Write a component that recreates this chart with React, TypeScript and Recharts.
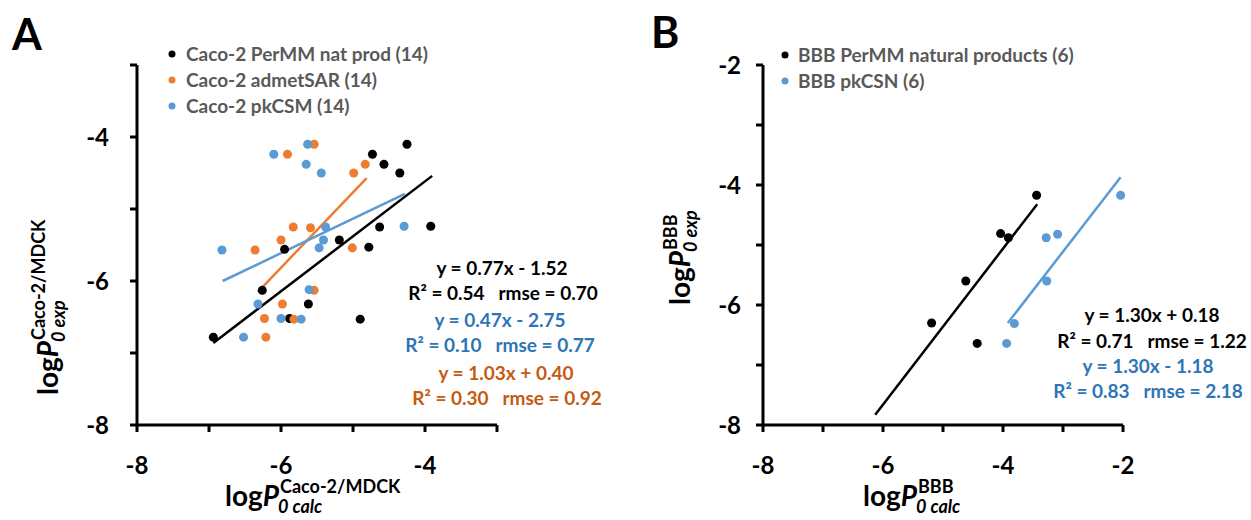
import React, { useLayoutEffect, useRef, useState } from 'react';
import { ScatterChart, Scatter, XAxis, YAxis, ZAxis, ReferenceLine } from 'recharts';

const FONT = 'Lato, Carlito, "Open Sans", sans-serif';
const BLACK = '#000000';
const ORANGE = '#ED7D31';
const BLUE = '#5B9BD5';
const BLUE_TEXT = '#2E75B6';
const ORANGE_TEXT = '#C55A11';
const GREY_TEXT = '#595959';

// Panel A: Caco-2/MDCK, calculated (x) vs experimental (y)
const cacoPermm = [
    { x: -4.25, y: -4.10 }, { x: -4.73, y: -4.24 }, { x: -4.57, y: -4.38 },
    { x: -4.35, y: -4.50 }, { x: -4.63, y: -5.25 }, { x: -3.92, y: -5.24 },
    { x: -5.19, y: -5.43 }, { x: -5.95, y: -5.56 }, { x: -4.78, y: -5.53 },
    { x: -6.26, y: -6.13 }, { x: -5.62, y: -6.32 }, { x: -5.88, y: -6.52 },
    { x: -4.90, y: -6.53 }, { x: -6.94, y: -6.78 },
];
const cacoAdmetsar = [
    { x: -5.54, y: -4.10 }, { x: -5.91, y: -4.24 }, { x: -4.83, y: -4.38 },
    { x: -4.99, y: -4.50 }, { x: -5.83, y: -5.25 }, { x: -5.59, y: -5.26 },
    { x: -6.00, y: -5.43 }, { x: -6.36, y: -5.57 }, { x: -5.01, y: -5.54 },
    { x: -5.54, y: -6.13 }, { x: -5.98, y: -6.32 }, { x: -6.23, y: -6.52 },
    { x: -5.82, y: -6.53 }, { x: -6.21, y: -6.78 },
];
const cacoPkcsm = [
    { x: -5.63, y: -4.10 }, { x: -6.10, y: -4.24 }, { x: -5.65, y: -4.38 },
    { x: -5.44, y: -4.50 }, { x: -5.38, y: -5.25 }, { x: -4.29, y: -5.24 },
    { x: -5.41, y: -5.43 }, { x: -5.47, y: -5.54 }, { x: -6.82, y: -5.57 },
    { x: -5.61, y: -6.12 }, { x: -6.32, y: -6.32 }, { x: -6.00, y: -6.52 },
    { x: -5.72, y: -6.53 }, { x: -6.52, y: -6.78 },
];
const cacoPermmFit = [{ x: -6.94, y: -6.86 }, { x: -3.90, y: -4.54 }];
const cacoAdmetsarFit = [{ x: -6.32, y: -6.15 }, { x: -4.81, y: -4.57 }];
const cacoPkcsmFit = [{ x: -6.81, y: -6.00 }, { x: -4.28, y: -4.79 }];

// Panel B: BBB
const bbbPermm = [
    { x: -3.44, y: -4.17 }, { x: -4.04, y: -4.81 }, { x: -3.91, y: -4.88 },
    { x: -4.62, y: -5.60 }, { x: -5.19, y: -6.30 }, { x: -4.43, y: -6.64 },
];
const bbbPkcsn = [
    { x: -2.04, y: -4.17 }, { x: -3.28, y: -4.88 }, { x: -3.09, y: -4.82 },
    { x: -3.27, y: -5.60 }, { x: -3.81, y: -6.31 }, { x: -3.94, y: -6.64 },
];
const bbbPermmFit = [{ x: -6.13, y: -7.83 }, { x: -3.43, y: -4.32 }];
const bbbPkcsnFit = [{ x: -3.92, y: -6.30 }, { x: -2.04, y: -3.87 }];

const ticksA = [-8, -7, -6, -5, -4, -3];
const ticksB = [-8, -7, -6, -5, -4, -3, -2];

const legendA = [
    { label: 'Caco-2 PerMM nat prod (14)', color: BLACK },
    { label: 'Caco-2 admetSAR (14)', color: ORANGE },
    { label: 'Caco-2 pkCSM (14)', color: BLUE },
];
const legendB = [
    { label: 'BBB PerMM natural products (6)', color: BLACK },
    { label: 'BBB pkCSN (6)', color: BLUE },
];

const statsA = [
    { text: 'y = 0.77x - 1.52', color: BLACK },
    { text: 'R² = 0.54   rmse = 0.70', color: BLACK },
    { text: 'y = 0.47x - 2.75', color: BLUE_TEXT },
    { text: 'R² = 0.10   rmse = 0.77', color: BLUE_TEXT },
    { text: 'y = 1.03x + 0.40', color: ORANGE_TEXT },
    { text: 'R² = 0.30   rmse = 0.92', color: ORANGE_TEXT },
];
const statsB = [
    { text: 'y = 1.30x + 0.18', color: BLACK },
    { text: 'R² = 0.71   rmse = 1.22', color: BLACK },
    { text: 'y = 1.30x - 1.18', color: BLUE_TEXT },
    { text: 'R² = 0.83   rmse = 2.18', color: BLUE_TEXT },
];

const evenOnly = (v: number) => (v % 2 === 0 ? String(v) : '');
const tickFont = { fontFamily: FONT, fontWeight: 'bold', fontSize: 24, fill: '#000' };
const axisStroke = { stroke: '#000', strokeWidth: 3 };

function AxisTitle({ x, y, rotate, sup, sub }: { x: number; y: number; rotate: number; sup: string; sub: string }) {
    const ref = useRef<SVGTextElement>(null);
    const [w, setW] = useState(58);
    useLayoutEffect(() => {
        if (ref.current) setW(ref.current.getComputedTextLength());
    }, []);
    return (
        <g transform={`translate(${x},${y}) rotate(${rotate})`} fontFamily={FONT} fontWeight="bold" fill="#000">
            <text ref={ref} x={0} y={0} fontSize={28}>
                log<tspan fontStyle="italic">P</tspan>
            </text>
            <text x={w + 1} y={-13} fontSize={18}>{sup}</text>
            <text x={w - 1} y={7} fontSize={18} fontStyle="italic">{sub}</text>
        </g>
    );
}

export default function App() {
    const rowsA = [275, 300, 327, 352, 380, 405];
    const colsA = [502, 503, 500, 500, 506, 507];
    const rowsB = [322, 348, 373, 398];
    const colsB = [1152, 1152, 1148, 1148];

    return (
        <div style={{ position: 'absolute', left: 0, top: 0, width: 1251, height: 520, background: '#fff' }}>
            <div style={{ position: 'absolute', left: 0, top: 0 }}>
                <ScatterChart width={620} height={520} margin={{ top: 65, right: 123, bottom: 65, left: 77 }}>
                    <XAxis type="number" dataKey="x" domain={[-8, -3]} ticks={ticksA} tickFormatter={evenOnly}
                        height={30} tick={tickFont} axisLine={axisStroke} tickLine={axisStroke} tickSize={7} tickMargin={25} />
                    <YAxis type="number" dataKey="y" domain={[-8, -3]} ticks={ticksA} tickFormatter={evenOnly}
                        width={60} tick={tickFont} axisLine={axisStroke} tickLine={axisStroke} tickSize={7} tickMargin={21} />
                    <ZAxis range={[79, 79]} />
                    <Scatter data={cacoPermm} fill={BLACK} isAnimationActive={false} />
                    <Scatter data={cacoAdmetsar} fill={ORANGE} isAnimationActive={false} />
                    <Scatter data={cacoPkcsm} fill={BLUE} isAnimationActive={false} />
                    <ReferenceLine segment={cacoPermmFit} stroke={BLACK} strokeWidth={2.5} />
                    <ReferenceLine segment={cacoAdmetsarFit} stroke={ORANGE} strokeWidth={2.5} />
                    <ReferenceLine segment={cacoPkcsmFit} stroke={BLUE} strokeWidth={2.5} />
                </ScatterChart>
            </div>
            <div style={{ position: 'absolute', left: 640, top: 0 }}>
                <ScatterChart width={611} height={520} margin={{ top: 65, right: 128, bottom: 65, left: 63 }}>
                    <XAxis type="number" dataKey="x" domain={[-8, -2]} ticks={ticksB} tickFormatter={evenOnly}
                        height={30} tick={tickFont} axisLine={axisStroke} tickLine={axisStroke} tickSize={7} tickMargin={25} />
                    <YAxis type="number" dataKey="y" domain={[-8, -2]} ticks={ticksB} tickFormatter={evenOnly}
                        width={60} tick={tickFont} axisLine={axisStroke} tickLine={axisStroke} tickSize={7} tickMargin={15} />
                    <ZAxis range={[64, 64]} />
                    <Scatter data={bbbPermm} fill={BLACK} isAnimationActive={false} />
                    <Scatter data={bbbPkcsn} fill={BLUE} isAnimationActive={false} />
                    <ReferenceLine segment={bbbPermmFit} stroke={BLACK} strokeWidth={2.5} />
                    <ReferenceLine segment={bbbPkcsnFit} stroke={BLUE} strokeWidth={2.5} />
                </ScatterChart>
            </div>
            <svg width={1251} height={520} style={{ position: 'absolute', left: 0, top: 0, pointerEvents: 'none' }}
                fontFamily={FONT} fontWeight="bold">
                <text x={12} y={50} fontSize={43} fill="#000">A</text>
                <text x={651} y={48} fontSize={43} fill="#000">B</text>

                {legendA.map((d, i) => (
                    <g key={d.label}>
                        <circle cx={172} cy={54 + i * 26} r={3.5} fill={d.color} />
                        <text x={186} y={61 + i * 26} fontSize={19} fill={GREY_TEXT}>{d.label}</text>
                    </g>
                ))}
                {legendB.map((d, i) => (
                    <g key={d.label}>
                        <circle cx={785} cy={55 + i * 26} r={3.5} fill={d.color} />
                        <text x={798} y={62 + i * 26} fontSize={19} fill={GREY_TEXT}>{d.label}</text>
                    </g>
                ))}

                {statsA.map((d, i) => (
                    <text key={i} x={colsA[i]} y={rowsA[i]} fontSize={19} fill={d.color} textAnchor="middle"
                        style={{ whiteSpace: 'pre' }}>{d.text}</text>
                ))}
                {statsB.map((d, i) => (
                    <text key={i} x={colsB[i]} y={rowsB[i]} fontSize={19} fill={d.color} textAnchor="middle"
                        style={{ whiteSpace: 'pre' }}>{d.text}</text>
                ))}

                <AxisTitle x={58} y={395} rotate={-90} sup="Caco-2/MDCK" sub="0 exp" />
                <AxisTitle x={225} y={506} rotate={0} sup="Caco-2/MDCK" sub="0 calc" />
                <AxisTitle x={690} y={305} rotate={-90} sup="BBB" sub="0 exp" />
                <AxisTitle x={863} y={506} rotate={0} sup="BBB" sub="0 calc" />
            </svg>
        </div>
    );
}
